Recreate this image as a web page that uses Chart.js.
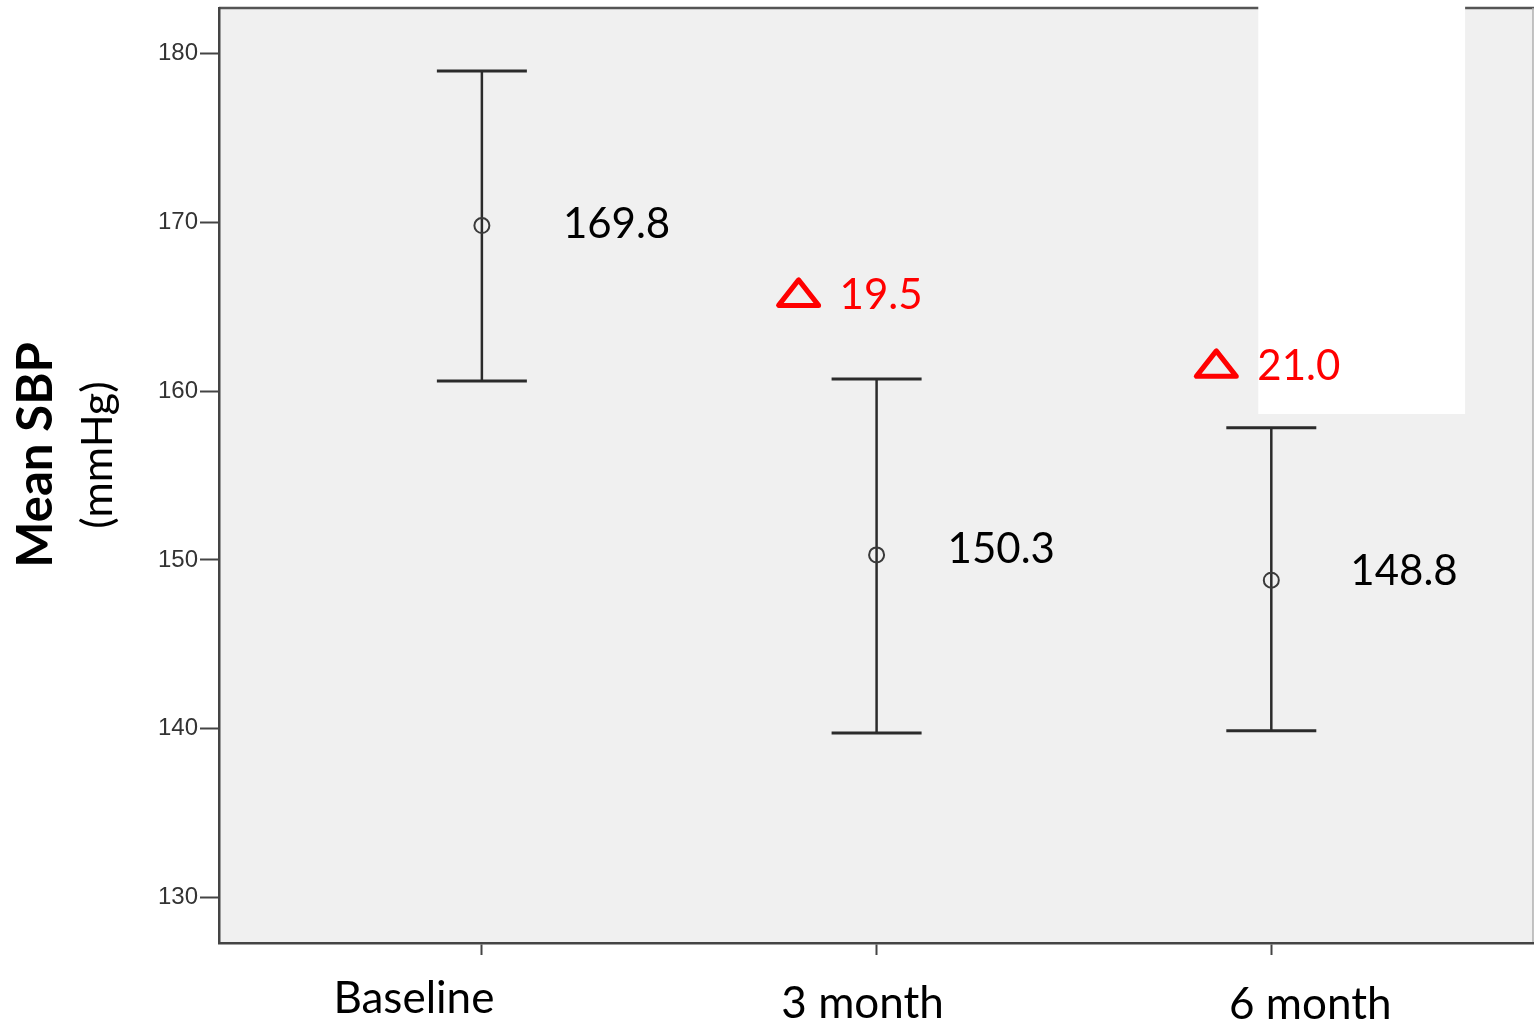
<!DOCTYPE html>
<html>
<head>
<meta charset="utf-8">
<title>Mean SBP</title>
<script src="https://cdn.jsdelivr.net/npm/chart.js@4/dist/chart.umd.min.js"></script>
<style>
  html, body { margin: 0; padding: 0; background: #ffffff; }
  canvas { display: block; }
</style>
</head>
<body>
<canvas id="chart" width="1534" height="1022"></canvas>
<script>
// Visits and the systolic blood pressure summary at each one (mmHg)
const categories = ['Baseline', '3 month', '6 month'];
const means = [169.8, 150.3, 148.8];
const upper = [178.95, 160.72, 157.82];
const lower = [160.60, 139.76, 139.88];
const yTicks = [130, 140, 150, 160, 170, 180];

// Fall from baseline shown above each follow-up visit
const drops = means.map(m => +(means[0] - m).toFixed(1));

// Styling
const FONT = 'Lato, "Open Sans", sans-serif';
const AXIS_COLOR = '#444444';
const BAR_COLOR = '#2b2b2b';
const CAP_HALF = 45;                 // half width of an error-bar cap, px
const meanLabelOffsets = [[81, 12], [71, 8], [79, 5]];     // [dx, dy] from the point
const dropLabelOffsets = [null, [-37, -70], [-14, -48]];   // [dx, dy] from the upper cap
const catLabelOffsets = [[-68, 1013], [-14, 1018], [39, 1019]]; // [dx from tick, baseline y]
const maskBox = { x0: 2.967, x1: 3.491, yBottom: 158.64 }; // blank panel, in axis units

// keep the plot frame exactly where the axes put it
const noEdgePadding = s => {
  s.paddingTop = 0; s.paddingBottom = 0; s.paddingLeft = 0; s.paddingRight = 0;
};

const decor = {
  id: 'decor',
  beforeDraw(chart) {
    const { ctx, chartArea: a, scales: { x, y } } = chart;
    ctx.save();
    ctx.fillStyle = '#f0f0f0';
    ctx.fillRect(a.left, a.top, a.right - a.left, a.bottom - a.top);
    // frame: top and right edges
    ctx.strokeStyle = '#555555';
    ctx.lineWidth = 2.5;
    ctx.beginPath();
    ctx.moveTo(a.left, a.top);
    ctx.lineTo(chart.width, a.top);
    ctx.stroke();
    ctx.strokeStyle = '#b0b0b0';
    ctx.lineWidth = 1.5;
    ctx.beginPath();
    ctx.moveTo(a.right, a.top);
    ctx.lineTo(a.right, a.bottom);
    ctx.stroke();
    // blank panel in the upper right
    const px0 = x.getPixelForValue(maskBox.x0);
    const px1 = x.getPixelForValue(maskBox.x1);
    const py1 = y.getPixelForValue(maskBox.yBottom);
    ctx.fillStyle = '#ffffff';
    ctx.fillRect(px0, a.top - 2, px1 - px0, py1 - a.top + 2);
    ctx.restore();
  },
  beforeDatasetsDraw(chart) {
    const { ctx, scales: { x, y } } = chart;
    ctx.save();
    ctx.strokeStyle = BAR_COLOR;
    ctx.lineCap = 'butt';
    categories.forEach((c, i) => {
      const px = x.getPixelForValue(i + 1);
      const pt = y.getPixelForValue(upper[i]);
      const pb = y.getPixelForValue(lower[i]);
      ctx.lineWidth = 2.5;
      ctx.beginPath();
      ctx.moveTo(px, pt);
      ctx.lineTo(px, pb);
      ctx.stroke();
      ctx.lineWidth = 3;
      ctx.beginPath();
      ctx.moveTo(px - CAP_HALF, pt);
      ctx.lineTo(px + CAP_HALF, pt);
      ctx.moveTo(px - CAP_HALF, pb);
      ctx.lineTo(px + CAP_HALF, pb);
      ctx.stroke();
    });
    ctx.restore();
  },
  afterDraw(chart) {
    const { ctx, scales: { x, y } } = chart;
    ctx.save();
    ctx.textBaseline = 'alphabetic';

    // mean values beside each point
    ctx.fillStyle = '#000000';
    ctx.font = `42px ${FONT}`;
    ctx.textAlign = 'left';
    categories.forEach((c, i) => {
      const px = x.getPixelForValue(i + 1);
      const py = y.getPixelForValue(means[i]);
      ctx.fillText(means[i].toFixed(1), px + meanLabelOffsets[i][0], py + meanLabelOffsets[i][1]);
    });

    // drop from baseline, red, with a delta triangle
    categories.forEach((c, i) => {
      if (!dropLabelOffsets[i]) return;
      const px = x.getPixelForValue(i + 1);
      const pt = y.getPixelForValue(upper[i]);
      const tx = px + dropLabelOffsets[i][0];
      const by = pt + dropLabelOffsets[i][1];
      ctx.fillStyle = '#ff0000';
      ctx.font = `42px ${FONT}`;
      ctx.textAlign = 'left';
      ctx.fillText(drops[i].toFixed(1), tx, by);
      // triangle glyph
      const right = tx - 18, left = right - 46, bottom = by - 1, top = bottom - 31;
      ctx.strokeStyle = '#ff0000';
      ctx.lineWidth = 5;
      ctx.lineJoin = 'round';
      ctx.beginPath();
      ctx.moveTo(left + 3, bottom - 2.5);
      ctx.lineTo(right - 3, bottom - 2.5);
      ctx.lineTo((left + right) / 2, top + 3);
      ctx.closePath();
      ctx.stroke();
    });

    // category labels under the axis
    ctx.fillStyle = '#000000';
    ctx.font = `44px ${FONT}`;
    ctx.textAlign = 'center';
    categories.forEach((c, i) => {
      const px = x.getPixelForValue(i + 1);
      ctx.fillText(c, px + catLabelOffsets[i][0], catLabelOffsets[i][1]);
    });

    // y-axis title, two lines
    ctx.textAlign = 'center';
    ctx.translate(52, 455);
    ctx.rotate(-Math.PI / 2);
    ctx.font = `bold 49px ${FONT}`;
    ctx.fillText('Mean SBP', 0, 0);
    ctx.font = `43px ${FONT}`;
    ctx.fillText('(mmHg)', 0, 60);
    ctx.restore();
  }
};

new Chart(document.getElementById('chart'), {
  type: 'scatter',
  data: {
    datasets: [{
      data: categories.map((c, i) => ({ x: i + 1, y: means[i] })),
      pointRadius: 7.5,
      pointHoverRadius: 7.5,
      pointBorderWidth: 2,
      pointBorderColor: '#3a3a3a',
      pointBackgroundColor: 'rgba(0,0,0,0)',
      showLine: false
    }]
  },
  options: {
    responsive: false,
    animation: false,
    devicePixelRatio: 1,
    events: [],
    layout: { autoPadding: false, padding: { top: 8, right: 1, left: 0, bottom: 0 } },
    plugins: { legend: { display: false }, tooltip: { enabled: false } },
    scales: {
      x: {
        type: 'linear',
        min: 0.334,
        max: 3.663,
        afterBuildTicks: s => { s.ticks = categories.map((c, i) => ({ value: i + 1 })); },
        ticks: { display: false },
        grid: { drawOnChartArea: false, drawTicks: true, tickLength: 12, tickColor: AXIS_COLOR, tickWidth: 2 },
        border: { display: true, color: AXIS_COLOR, width: 2.5 },
        afterFit: s => { s.height = 79; noEdgePadding(s); }
      },
      y: {
        min: 127.32,
        max: 182.68,
        afterBuildTicks: s => { s.ticks = yTicks.map(v => ({ value: v })); },
        ticks: { font: { family: '"Liberation Sans", Arial, sans-serif', size: 24 }, color: '#333333', padding: 2 },
        grid: { drawOnChartArea: false, drawTicks: true, tickLength: 19, tickColor: AXIS_COLOR, tickWidth: 2 },
        border: { display: true, color: AXIS_COLOR, width: 2.5 },
        afterFit: s => { s.width = 219; noEdgePadding(s); }
      }
    }
  },
  plugins: [decor]
});
</script>
</body>
</html>
